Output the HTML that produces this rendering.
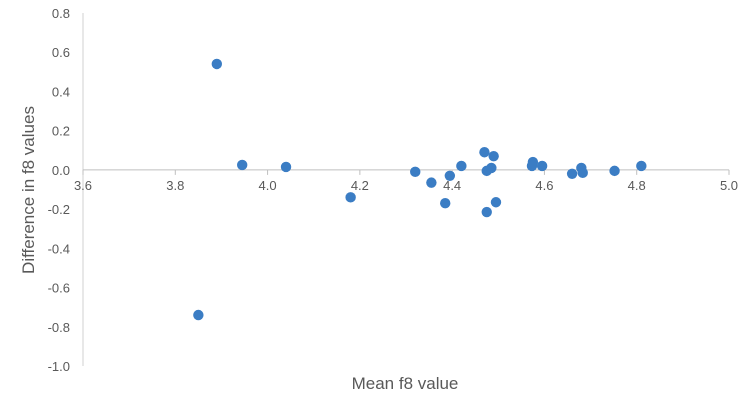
<!DOCTYPE html>
<html><head><meta charset="utf-8"><style>
body{margin:0;background:#fff;}
svg{display:block;font-family:"Liberation Sans",sans-serif;}
</style></head><body>
<svg id="chart" width="750" height="403"></svg>
<script>
const xVals=[3.89,3.945,4.04,3.85,4.18,4.32,4.355,4.385,4.395,4.42,4.47,4.49,4.475,4.485,4.475,4.495,4.575,4.573,4.595,4.66,4.68,4.683,4.752,4.81];
const yVals=[0.54,0.025,0.015,-0.74,-0.14,-0.01,-0.065,-0.17,-0.03,0.02,0.09,0.07,-0.005,0.01,-0.215,-0.165,0.04,0.02,0.02,-0.02,0.01,-0.015,-0.005,0.02];
const xTicks=["3.6","3.8","4.0","4.2","4.4","4.6","4.8","5.0"];
const yTicks=["0.8","0.6","0.4","0.2","0.0","-0.2","-0.4","-0.6","-0.8","-1.0"];
const svg=document.getElementById('chart');
const NS='http://www.w3.org/2000/svg';
const X=v=>83+(v-3.6)/1.4*646;
const Y=v=>13+(0.8-v)/1.8*353;
function mk(t,a,p){const e=document.createElementNS(NS,t);for(const k in a)e.setAttribute(k,a[k]);(p||svg).appendChild(e);return e;}
const yAxis=mk('line',{x1:X(3.6),x2:X(3.6),y1:Y(0.8),y2:Y(-1.0),stroke:'#d0d0d0'});


const xAxis=mk('line',{x1:X(3.6),x2:X(5.0),y1:Y(0),y2:Y(0),stroke:'#bfbfbf'});


xTicks.forEach(t=>{
  const v=parseFloat(t);
  const tk=mk('line',{x1:X(v),x2:X(v),y1:Y(0),y2:Y(0)+5,stroke:'#bfbfbf'});
  
  
  const tx=mk('text',{x:X(v),y:Y(0)+20,'text-anchor':'middle','font-size':'13',fill:'#595959'});
  tx.textContent=t;
  
  
});
yTicks.forEach(t=>{
  const v=parseFloat(t);
  const tx=mk('text',{x:X(3.6)-13,y:Y(v)+5,'text-anchor':'end','font-size':'13',fill:'#595959'});
  tx.textContent=t;
  
  
});
xVals.forEach((xv,i)=>{
  const c=mk('circle',{cx:X(xv),cy:Y(yVals[i]),r:5.2,fill:'#3b7dc4'});
  
  
});
const xt=mk('text',{x:405,y:389,'text-anchor':'middle','font-size':'17',fill:'#595959'});
xt.textContent='Mean f8 value';


const yt=mk('text',{x:0,y:0,'text-anchor':'middle','font-size':'17',fill:'#595959',transform:'translate(34,190) rotate(-90)'});
yt.textContent='Difference  in f8 values';


</script>
</body></html>
